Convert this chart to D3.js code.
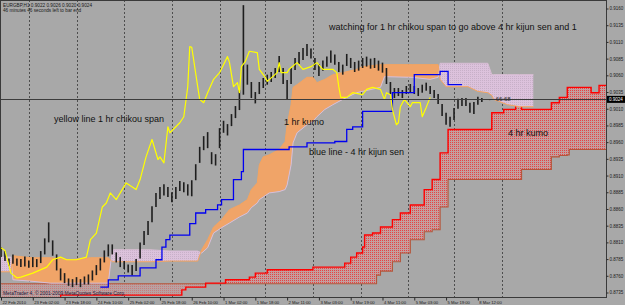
<!DOCTYPE html>
<html>
<head>
<meta charset="utf-8">
<script src="https://cdn.jsdelivr.net/npm/d3@7"></script>
<style>
  html, body { margin: 0; padding: 0; background: #a8a8a8; }
  svg { display: block; font-family: "Liberation Sans", Arial, sans-serif; }
</style>
</head>
<body>
<div id="chart"></div>
<script>
// EURGBP H1, 22 Feb - 8 Mar 2010, ichimoku 1 hr + 4 hr overlay

const priceTicks = [0.9160, 0.9135, 0.9110, 0.9085, 0.9060, 0.9035, 0.9010, 0.8985, 0.8960,
  0.8935, 0.8910, 0.8885, 0.8860, 0.8835, 0.8810, 0.8785, 0.8760, 0.8735];

const timeBars = [0, 16, 32, 48, 64, 80, 96, 112, 128, 144, 160, 176, 192, 208, 224, 240];
const timeLabels = ["22 Feb 2010", "23 Feb 02:00", "23 Feb 18:00", "24 Feb 10:00", "25 Feb 02:00",
  "25 Feb 18:00", "26 Feb 10:00", "1 Mar 02:00", "1 Mar 18:00", "2 Mar 11:00", "3 Mar 03:00",
  "3 Mar 19:00", "4 Mar 11:00", "5 Mar 03:00", "5 Mar 19:00", "8 Mar 12:00"];

// day separators
const gridBars = [14, 38, 62, 86, 110, 133, 157, 181, 205, 228, 252];

const lastPrice = 0.9024;

// one candle every 2 bars (high / low)
const candleHigh = [
  0.8803,0.8797,0.8786,0.8792,0.8786,0.8785,0.8789,0.8783,0.8788,0.8785,
  0.8797,0.8816,0.8840,0.8813,0.8792,0.8771,0.8764,0.8756,0.8755,0.8758,
  0.8755,0.8759,0.8762,0.8768,0.8776,0.8786,0.8798,0.8807,0.8807,0.8795,
  0.8788,0.8782,0.8777,0.8776,0.8785,0.8810,0.8827,0.8842,0.8864,0.8884,
  0.8893,0.8897,0.8893,0.8885,0.8893,0.8902,0.8900,0.8897,0.8903,0.8927,
  0.8953,0.8969,0.8975,0.8945,0.8942,0.8981,0.8992,0.8987,0.9002,0.9014,
  0.9038,0.9165,0.9076,0.9050,0.9035,0.9050,0.9056,0.9061,0.9065,0.9071,
  0.9089,0.9071,0.9053,0.9071,0.9086,0.9095,0.9101,0.9107,0.9100,0.9086,
  0.9077,0.9082,0.9088,0.9097,0.9091,0.9080,0.9076,0.9092,0.9086,0.9080,
  0.9082,0.9086,0.9088,0.9085,0.9086,0.9082,0.9079,0.9071,0.9050,0.9041,
  0.9041,0.9038,0.9044,0.9047,0.9044,0.9041,0.9046,0.9049,0.9044,0.9038,
  0.9032,0.9017,0.9004,0.8998,0.9011,0.9025,0.9026,0.9026,0.9019,0.9020,
  0.9028,0.9026];
const candleLow = [
  0.8788,0.8782,0.8775,0.8778,0.8775,0.8773,0.8774,0.8772,0.8773,0.8773,
  0.8779,0.8792,0.8810,0.8790,0.8768,0.8753,0.8749,0.8745,0.8743,0.8746,
  0.8743,0.8747,0.8747,0.8753,0.8761,0.8768,0.8780,0.8789,0.8792,0.8780,
  0.8773,0.8770,0.8765,0.8761,0.8767,0.8786,0.8806,0.8821,0.8840,0.8863,
  0.8875,0.8880,0.8878,0.8870,0.8875,0.8887,0.8885,0.8880,0.8879,0.8903,
  0.8929,0.8948,0.8951,0.8927,0.8925,0.8951,0.8974,0.8970,0.8984,0.8996,
  0.9008,0.9031,0.9046,0.9026,0.9018,0.9032,0.9041,0.9046,0.9050,0.9056,
  0.9065,0.9047,0.9023,0.9047,0.9068,0.9077,0.9083,0.9089,0.9085,0.9068,
  0.9059,0.9067,0.9073,0.9079,0.9076,0.9065,0.9061,0.9074,0.9071,0.9065,
  0.9067,0.9071,0.9073,0.9070,0.9071,0.9067,0.9064,0.9047,0.9032,0.9026,
  0.9029,0.9026,0.9032,0.9035,0.9032,0.9029,0.9034,0.9037,0.9032,0.9026,
  0.9017,0.8999,0.8986,0.8983,0.8993,0.9010,0.9014,0.9014,0.9004,0.9002,
  0.9016,0.9020];

// 1 hr chikou span (yellow)
const chikouBars = [0,2,5,8,10,16,23,26,30,33,38,43,45,48,51,53,55,58,61,63,68,70,73,76,79,80,82,84,85,90,
  92,94,95,96,99,100,102,104,107,110,114,115,117,119,120,121,123,125,129,130,133,134,139,140,141,144,145,
  149,152,156,159,162,167,169,170,171,174,177,182,184,187,191,193,194,196,197,199,200,201,203,206,207,
  211,212,214,216];
const chikouVals = [0.8802,0.8798,0.8764,0.8757,0.8758,0.8764,0.8773,0.8784,0.8788,0.8784,0.8784,0.8788,
  0.8814,0.8824,0.8863,0.8869,0.8884,0.8874,0.8889,0.8899,0.8889,0.8904,0.8938,0.8964,0.8934,0.8938,0.8929,
  0.8983,0.8974,0.8989,0.8998,0.9043,0.9103,0.9102,0.9043,0.9024,0.9019,0.9034,0.9054,0.9064,0.9088,0.9079,
  0.9043,0.9049,0.9034,0.9073,0.9081,0.9096,0.9094,0.9069,0.9057,0.9051,0.9064,0.9079,0.9064,0.9064,0.9069,
  0.9079,0.9069,0.9073,0.9079,0.9069,0.9069,0.9064,0.9043,0.9027,0.9027,0.9034,0.9031,0.9039,0.9042,0.9039,
  0.9024,0.9034,0.9031,0.9009,0.8986,0.8989,0.9013,0.9024,0.9013,0.9019,0.9019,0.8998,0.9012,0.9027];

// 4 hr kijun sen (blue)
const kijunBars = [50,54,59,70,78,81,83,85,95,98,103,109,111,117,121,122,145,154,168,174,177,182,197,208,221,225,232];
const kijunVals = [0.8743,0.8754,0.8760,0.8772,0.8784,0.8803,0.8814,0.8821,0.8838,0.8854,0.8859,0.8866,0.8874,
  0.8904,0.8916,0.8949,0.8953,0.8959,0.8961,0.8979,0.8983,0.9006,0.9034,0.9061,0.9066,0.9046,0.9046];

// 1 hr kumo
const kumo1Bars = [0,5,6,15,25,35,45,54,56,75,85,99,101,104,107,111,115,120,124,126,129,130,132,135,140,
  143,144,146,147,149,154,157,159,163,167,172,179,182,191,193,207,216,220,221,224,235,240,245,247,248,255,261,268];
const spanA1 = [0.8766,0.8766,0.8790,0.8787,0.8787,0.8784,0.8787,0.8787,0.8781,0.8781,
  0.8782,0.8782,0.8799,0.8814,0.8833,0.8844,0.8859,0.8866,0.8874,0.8889,
  0.8899,0.8926,0.8938,0.8941,0.8949,0.8961,0.8986,0.9016,0.9042,0.9046,
  0.9057,0.9057,0.9049,0.9054,0.9061,0.9064,0.9069,0.9073,0.9076,0.9076,
  0.9076,0.9076,0.9076,0.9054,0.9043,0.9043,0.9036,0.9034,0.9030,0.9024,
  0.9016,0.9013,0.9013];
const spanB1 = [0.8788,0.8788,0.8754,0.8752,0.8749,0.8749,0.8749,0.8749,0.8799,0.8799,
  0.8797,0.8797,0.8794,0.8802,0.8824,0.8832,0.8839,0.8848,0.8854,0.8862,
  0.8869,0.8874,0.8878,0.8884,0.8886,0.8889,0.8896,0.8926,0.8959,0.8974,
  0.8986,0.8991,0.8998,0.9009,0.9016,0.9024,0.9034,0.9036,0.9042,0.9058,
  0.9057,0.9054,0.9057,0.9078,0.9078,0.9078,0.9078,0.9078,0.9061,0.9061,
  0.9061,0.9061,0.9061];

// 4 hr kumo
const kumo4Bars = [0,27,30,89,91,93,95,103,113,125,128,134,157,173,176,179,182,183,187,189,
  191,197,201,206,213,217,221,225,246,247,253,258,259,261,262,273,277,281,285,286,296,297,300,301,306];
const spanA4 = [0.8721,0.8721,0.8731,0.8731,0.8739,0.8743,0.8743,0.8749,0.8754,0.8758,
  0.8764,0.8769,0.8773,0.8779,0.8788,0.8794,0.8803,0.8821,0.8824,0.8824,
  0.8833,0.8844,0.8854,0.8866,0.8889,0.8904,0.8944,0.8979,0.8979,0.9004,
  0.9009,0.9009,0.9019,0.9019,0.9009,0.9009,0.9019,0.9027,0.9042,0.9042,
  0.9042,0.9034,0.9034,0.9045,0.9045];
const spanB4 = [0.8748,0.8748,0.8748,0.8748,0.8748,0.8748,0.8748,0.8748,0.8748,0.8748,
  0.8748,0.8748,0.8748,0.8748,0.8748,0.8748,0.8748,0.8748,0.8748,0.8761,
  0.8767,0.8781,0.8794,0.8814,0.8826,0.8829,0.8863,0.8904,0.8904,0.8904,
  0.8904,0.8904,0.8904,0.8904,0.8919,0.8919,0.8938,0.8940,0.8941,0.8949,
  0.8949,0.8949,0.8949,0.8949,0.8949];

const W = 625, H = 305;
const plotRight = 606, plotBottom = 297;

const x = d3.scaleLinear().domain([0, 306]).range([1, 609]);
const y = d3.scaleLinear().domain([0.8735, 0.9160]).range([292.5, 8.5]);

const svg = d3.select("#chart").append("svg").attr("width", W).attr("height", H);
svg.append("rect").attr("width", W).attr("height", H).attr("fill", "#a8a8a8");

const defs = svg.append("defs");
defs.append("clipPath").attr("id", "plotClip")
  .append("rect").attr("x", 1).attr("y", 1).attr("width", plotRight - 1).attr("height", plotBottom - 1);

function dotPattern(id, base, dot) {
  const p = defs.append("pattern").attr("id", id)
    .attr("width", 2).attr("height", 2).attr("patternUnits", "userSpaceOnUse");
  p.append("rect").attr("width", 2).attr("height", 2).attr("fill", base);
  p.append("rect").attr("width", 1).attr("height", 1).attr("fill", dot);
}
dotPattern("redDots", "#c49e9e", "#e44444");
dotPattern("brownDots", "#b8a2a2", "#c87c7c");
dotPattern("pinkDots", "#dcc2dc", "#c8b0c8");

const plot = svg.append("g").attr("clip-path", "url(#plotClip)");

// grid
plot.selectAll("line.grid").data(gridBars).join("line")
  .attr("class", "grid")
  .attr("x1", d => Math.round(x(d)) + 0.5).attr("x2", d => Math.round(x(d)) + 0.5)
  .attr("y1", 0).attr("y2", plotBottom)
  .attr("stroke", "#4e4e4e").attr("stroke-width", 1).attr("stroke-dasharray", "2,2");

function drawKumo(g, id, bars, a, b, curve, upFill, downFill, aColor, bColor, aWidth, bWidth) {
  const rows = bars.map((bar, i) => ({ bar, a: a[i], b: b[i] }));
  const above = d3.area().curve(curve).x(d => x(d.bar)).y0(0).y1(d => y(d.b));
  const below = d3.area().curve(curve).x(d => x(d.bar)).y0(H).y1(d => y(d.b));
  defs.append("clipPath").attr("id", id + "Up").append("path").attr("d", above(rows));
  defs.append("clipPath").attr("id", id + "Dn").append("path").attr("d", below(rows));

  const between = d3.area().curve(curve).x(d => x(d.bar)).y0(d => y(d.a)).y1(d => y(d.b));
  g.append("path").attr("d", between(rows)).attr("fill", upFill).attr("clip-path", `url(#${id}Up)`);
  g.append("path").attr("d", between(rows)).attr("fill", downFill).attr("clip-path", `url(#${id}Dn)`);

  const line = d3.line().curve(curve).x(d => x(d.bar));
  g.append("path").attr("d", line.y(d => y(d.b))(rows))
    .attr("fill", "none").attr("stroke", bColor).attr("stroke-width", bWidth);
  g.append("path").attr("d", line.y(d => y(d.a))(rows))
    .attr("fill", "none").attr("stroke", aColor).attr("stroke-width", aWidth);
}

drawKumo(plot, "k4", kumo4Bars, spanA4, spanB4, d3.curveStepAfter,
  "url(#redDots)", "url(#brownDots)", "#ff0000", "#b4553a", 1.4, 1.1);
drawKumo(plot, "k1", kumo1Bars, spanA1, spanB1, d3.curveLinear,
  "#f0a468", "url(#pinkDots)", "#f4a460", "#d8bfd8", 1, 1);

// candles
plot.selectAll("line.candle").data(candleHigh).join("line")
  .attr("class", "candle")
  .attr("x1", (d, i) => x(i * 2)).attr("x2", (d, i) => x(i * 2))
  .attr("y1", d => y(d)).attr("y2", (d, i) => y(candleLow[i]))
  .attr("stroke", "#1e1e1e").attr("stroke-width", 1.6);

// 4 hr kijun
const kijun = kijunBars.map((b, i) => [b, kijunVals[i]]);
plot.append("path")
  .attr("d", d3.line().curve(d3.curveStepAfter).x(d => x(d[0])).y(d => y(d[1]))(kijun))
  .attr("fill", "none").attr("stroke", "#0000f0").attr("stroke-width", 1.3);

// 1 hr chikou
const chikou = chikouBars.map((b, i) => [b, chikouVals[i]]);
plot.append("path")
  .attr("d", d3.line().x(d => x(d[0])).y(d => y(d[1]))(chikou))
  .attr("fill", "none").attr("stroke", "#ffff00").attr("stroke-width", 1.2)
  .attr("stroke-linejoin", "round");

// bid line
plot.append("line")
  .attr("x1", 0).attr("x2", plotRight)
  .attr("y1", Math.round(y(lastPrice)) + 0.5).attr("y2", Math.round(y(lastPrice)) + 0.5)
  .attr("stroke", "#3c3c3c").attr("stroke-width", 1);

// frame
svg.append("rect").attr("x", 0.5).attr("y", 0.5)
  .attr("width", plotRight).attr("height", plotBottom)
  .attr("fill", "none").attr("stroke", "#3a3a3a").attr("stroke-width", 1);

// price axis
const yAxis = svg.append("g").attr("transform", `translate(${plotRight + 0.5},0)`)
  .call(d3.axisRight(y).tickValues(priceTicks).tickFormat(d3.format(".4f"))
    .tickSize(2).tickSizeOuter(0).tickPadding(1));
yAxis.select(".domain").remove();
yAxis.selectAll("line").attr("stroke", "#2a2a2a");
yAxis.selectAll("text").attr("font-size", 4.5).attr("fill", "#1a1a1a")
  .attr("font-family", "Liberation Sans, Arial, sans-serif");

// last price tag
svg.append("rect").attr("x", plotRight + 1).attr("y", y(lastPrice) - 3.5)
  .attr("width", 18).attr("height", 7).attr("fill", "#000");
svg.append("text").attr("x", plotRight + 3).attr("y", y(lastPrice) + 1.6)
  .attr("font-size", 4.5).attr("fill", "#fff").text(d3.format(".4f")(lastPrice));

// time axis
const xAxis = svg.append("g").attr("transform", `translate(0,${plotBottom + 0.5})`)
  .call(d3.axisBottom(x).tickValues(timeBars).tickFormat((d, i) => timeLabels[i])
    .tickSize(3).tickSizeOuter(0).tickPadding(1));
xAxis.select(".domain").remove();
xAxis.selectAll("line").attr("stroke", "#2a2a2a");
xAxis.selectAll("text").attr("text-anchor", "start").attr("x", 1)
  .attr("font-size", 4.2).attr("fill", "#1a1a1a")
  .attr("font-family", "Liberation Sans, Arial, sans-serif");

// header
svg.append("text").attr("x", 3).attr("y", 6.8).attr("font-size", 4.7).attr("fill", "#1a1a1a")
  .text("EURGBP,H1  0.9022 0.9026 0.9020 0.9024");
svg.append("text").attr("x", 3).attr("y", 11.5).attr("font-size", 4.7).attr("fill", "#1a1a1a")
  .text("46 minutes 46 seconds left to bar end");

// copyright
svg.append("text").attr("x", 3).attr("y", 295).attr("font-size", 4.9).attr("fill", "#1c1c3c")
  .text("MetaTrader 4, © 2001-2009 MetaQuotes Software Corp.");

// bar timer
svg.append("text").attr("x", 488).attr("y", 100.5).attr("font-size", 6).attr("fill", "#2a2a2a")
  .text("← 66:68");

// notes
const notes = [
  { t: "watching for 1 hr chikou span to go above 4 hr kijun sen and 1", x: 329, y: 30 },
  { t: "yellow line 1 hr chikou span", x: 54, y: 122 },
  { t: "1 hr kumo", x: 284, y: 125 },
  { t: "blue line - 4 hr kijun sen", x: 309, y: 155 },
  { t: "4 hr kumo", x: 508, y: 136 }
];
svg.selectAll("text.note").data(notes).join("text")
  .attr("class", "note")
  .attr("x", d => d.x).attr("y", d => d.y)
  .attr("font-size", 9).attr("fill", "#111")
  .text(d => d.t);
</script>
</body>
</html>
